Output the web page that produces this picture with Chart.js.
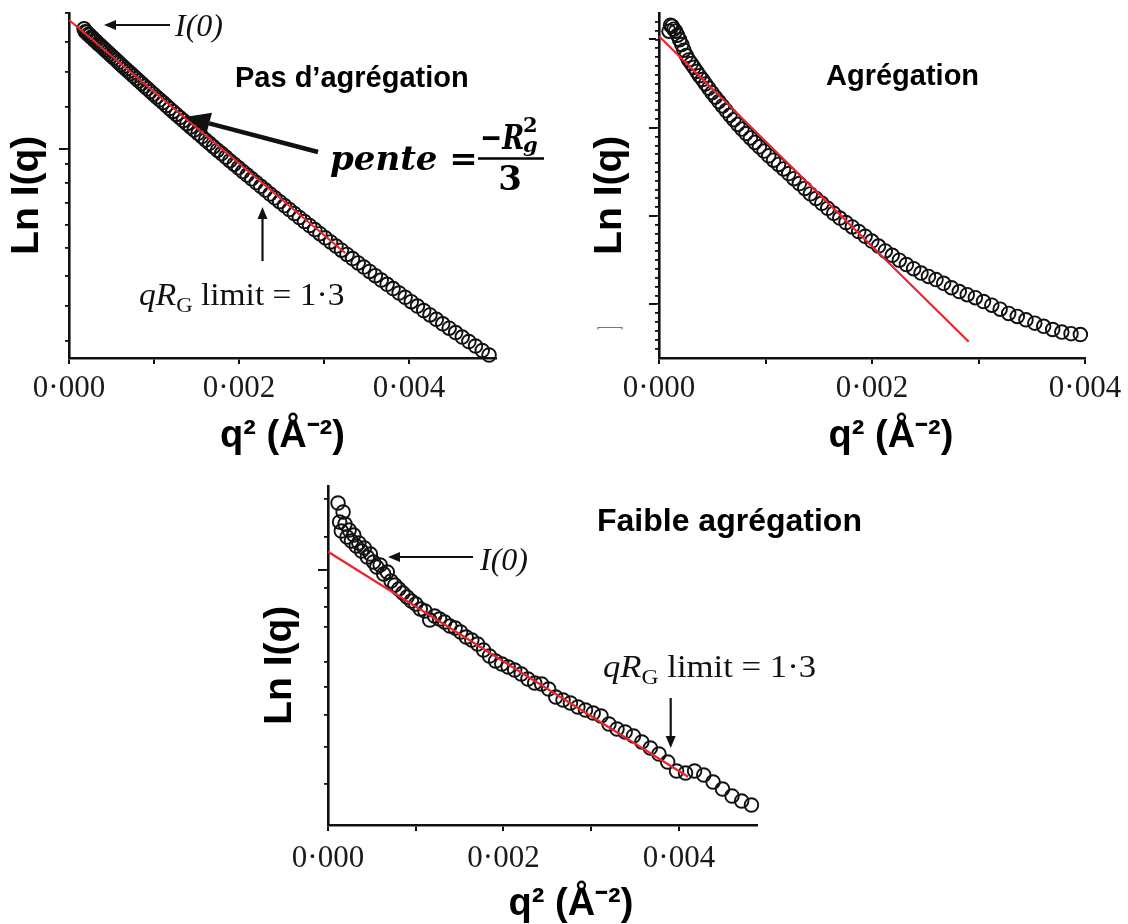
<!DOCTYPE html>
<html>
<head>
<meta charset="utf-8">
<title>Guinier plots</title>
<script src="https://cdn.jsdelivr.net/npm/chart.js@4.4.1/dist/chart.umd.min.js"></script>
<style>
  html, body { margin: 0; padding: 0; background: #fff; }
  #wrap { position: relative; width: 1128px; height: 924px; overflow: hidden; background: #fff; }
  #wrap canvas { position: absolute; left: 0; top: 0; }
</style>
</head>
<body>
<div id="wrap">
  <canvas id="panelA" width="1128" height="924"></canvas>
  <canvas id="panelB" width="1128" height="924"></canvas>
  <canvas id="panelC" width="1128" height="924"></canvas>
</div>
<script>
// x ticks shared by the three plots
const xTickValues = [0, 0.001, 0.002, 0.003, 0.004];
const xTickLabels = ["0·000", "", "0·002", "", "0·004"];

// Pas d'agrégation
const qSqA = [0.0001769, 0.0001924, 0.0002085, 0.0002253, 0.0002427, 0.0002608, 0.0002796, 0.0002989, 0.0003190, 0.0003397,
  0.0003610, 0.0003830, 0.0004056, 0.0004289, 0.0004528, 0.0004774, 0.0005027, 0.0005285, 0.0005551, 0.0005823,
  0.0006101, 0.0006386, 0.0006677, 0.0006975, 0.0007279, 0.0007590, 0.0007907, 0.0008231, 0.0008562, 0.0008898,
  0.0009242, 0.0009591, 0.0009948, 0.0010311, 0.0010680, 0.0011056, 0.0011438, 0.0011827, 0.0012222, 0.0012624,
  0.0013032, 0.0013447, 0.0013868, 0.0014296, 0.0014730, 0.0015171, 0.0015618, 0.0016072, 0.0016532, 0.0016999,
  0.0017472, 0.0017952, 0.0018438, 0.0018931, 0.0019431, 0.0019936, 0.0020449, 0.0020967, 0.0021493, 0.0022024,
  0.0022563, 0.0023107, 0.0023659, 0.0024216, 0.0024781, 0.0025351, 0.0025929, 0.0026512, 0.0027102, 0.0027699,
  0.0028302, 0.0028912, 0.0029528, 0.0030151, 0.0030780, 0.0031416, 0.0032058, 0.0032707, 0.0033362, 0.0034024,
  0.0034692, 0.0035367, 0.0036048, 0.0036736, 0.0037430, 0.0038131, 0.0038838, 0.0039552, 0.0040272, 0.0040998,
  0.0041732, 0.0042471, 0.0043218, 0.0043970, 0.0044729, 0.0045495, 0.0046267, 0.0047046, 0.0047831, 0.0048623,
  0.0049421];
const lnIA = [4.292, 4.262, 4.258, 4.236, 4.229, 4.207, 4.199, 4.178, 4.168, 4.146,
  4.132, 4.115, 4.097, 4.078, 4.059, 4.040, 4.020, 4.000, 3.979, 3.957,
  3.936, 3.913, 3.890, 3.867, 3.844, 3.819, 3.795, 3.770, 3.744, 3.718,
  3.692, 3.665, 3.638, 3.610, 3.582, 3.554, 3.525, 3.495, 3.466, 3.436,
  3.405, 3.374, 3.343, 3.311, 3.279, 3.247, 3.214, 3.180, 3.147, 3.113,
  3.078, 3.044, 3.009, 2.973, 2.938, 2.902, 2.865, 2.829, 2.792, 2.754,
  2.717, 2.679, 2.640, 2.602, 2.563, 2.524, 2.485, 2.445, 2.405, 2.365,
  2.325, 2.284, 2.243, 2.202, 2.161, 2.119, 2.078, 2.036, 1.994, 1.951,
  1.909, 1.866, 1.823, 1.780, 1.737, 1.694, 1.650, 1.607, 1.563, 1.519,
  1.475, 1.431, 1.387, 1.342, 1.298, 1.254, 1.209, 1.165, 1.120, 1.075,
  1.030];
const fitA_x = [0, 0.00325];
const fitA_y = [4.38, 2.05];
const yTicksA = [4.45, 4.16, 3.86, 3.51, 3.09, 2.94, 2.75, 2.55, 2.33, 2.10, 1.82, 1.52, 1.17];
const yMajorA = [3.09];

// Agrégation
const qSqB = [0.0000941, 0.0001082, 0.0001232, 0.0001392, 0.0001563, 0.0001742, 0.0001932, 0.0002132, 0.0002341, 0.0002560,
  0.0002789, 0.0003028, 0.0003276, 0.0003534, 0.0003803, 0.0004080, 0.0004368, 0.0004666, 0.0004973, 0.0005290,
  0.0005617, 0.0005954, 0.0006300, 0.0006656, 0.0007023, 0.0007398, 0.0007784, 0.0008180, 0.0008585, 0.0009000,
  0.0009425, 0.0009860, 0.0010304, 0.0010758, 0.0011223, 0.0011696, 0.0012180, 0.0012674, 0.0013177, 0.0013690,
  0.0014213, 0.0014746, 0.0015288, 0.0015840, 0.0016403, 0.0016974, 0.0017556, 0.0018148, 0.0018749, 0.0019360,
  0.0019981, 0.0020612, 0.0021252, 0.0021902, 0.0022563, 0.0023232, 0.0023912, 0.0024602, 0.0025301, 0.0026010,
  0.0026729, 0.0027458, 0.0028196, 0.0028944, 0.0029703, 0.0030470, 0.0031248, 0.0032036, 0.0032833, 0.0033640,
  0.0034457, 0.0035284, 0.0036120, 0.0036966, 0.0037823, 0.0038688, 0.0039564];
const lnIB = [4.094, 4.162, 4.151, 4.117, 4.094, 4.049, 3.998, 3.943, 3.879, 3.818,
  3.768, 3.727, 3.684, 3.638, 3.590, 3.546, 3.497, 3.448, 3.397, 3.347,
  3.297, 3.247, 3.195, 3.142, 3.091, 3.038, 2.985, 2.935, 2.885, 2.834,
  2.784, 2.736, 2.683, 2.633, 2.585, 2.534, 2.481, 2.423, 2.368, 2.313,
  2.251, 2.199, 2.145, 2.087, 2.031, 1.977, 1.927, 1.877, 1.825, 1.771,
  1.717, 1.660, 1.605, 1.555, 1.500, 1.451, 1.404, 1.354, 1.316, 1.280,
  1.238, 1.188, 1.145, 1.109, 1.075, 1.032, 0.990, 0.945, 0.897, 0.863,
  0.825, 0.787, 0.751, 0.715, 0.686, 0.668, 0.658];
const fitB_x = [0, 0.002908];
const fitB_y = [4.037, 0.577];
const yTicksB = [0.5, 0.6, 0.7, 0.8, 0.9, 1.0, 1.1, 1.2, 1.3, 1.4, 1.5, 1.6, 1.7, 1.8, 1.9,
  2.0, 2.1, 2.2, 2.3, 2.4, 2.5, 2.6, 2.7, 2.8, 2.9, 3.0, 3.1, 3.2, 3.3, 3.4, 3.5, 3.6, 3.7, 3.8, 3.9,
  4.0, 4.1, 4.2];
const yMajorB = [1, 2, 3, 4];

// Faible agrégation
const qSqC = [0.0001145, 0.0001324, 0.0001515, 0.0001720, 0.0001938, 0.0002168, 0.0002412, 0.0002668, 0.0002938, 0.0003220,
  0.0003516, 0.0003824, 0.0004145, 0.0004480, 0.0004827, 0.0005187, 0.0005560, 0.0005946, 0.0006345, 0.0006757,
  0.0007182, 0.0007620, 0.0008071, 0.0008535, 0.0009012, 0.0009502, 0.0010005, 0.0010520, 0.0011049, 0.0011591,
  0.0012145, 0.0012713, 0.0013293, 0.0013887, 0.0014493, 0.0015113, 0.0015745, 0.0016390, 0.0017049, 0.0017720,
  0.0018404, 0.0019101, 0.0019811, 0.0020535, 0.0021271, 0.0022020, 0.0022782, 0.0023557, 0.0024344, 0.0025145,
  0.0025959, 0.0026786, 0.0027626, 0.0028478, 0.0029344, 0.0030223, 0.0031114, 0.0032019, 0.0032936, 0.0033867,
  0.0034810, 0.0035766, 0.0036736, 0.0037718, 0.0038713, 0.0039722, 0.0040743, 0.0041777, 0.0042824, 0.0043884,
  0.0044957, 0.0046043, 0.0047142, 0.0048254];
const lnIC = [4.22, 4.03, 3.94, 4.13, 4.01, 3.88, 3.95, 3.84, 3.90, 3.79,
  3.82, 3.74, 3.77, 3.68, 3.71, 3.63, 3.58, 3.60, 3.51, 3.53,
  3.44, 3.40, 3.36, 3.32, 3.28, 3.24, 3.21, 3.16, 3.14, 3.05,
  3.09, 3.06, 3.03, 2.99, 2.97, 2.93, 2.88, 2.85, 2.81, 2.75,
  2.69, 2.64, 2.61, 2.58, 2.55, 2.51, 2.46, 2.42, 2.41, 2.36,
  2.28, 2.25, 2.22, 2.18, 2.15, 2.12, 2.09, 2.01, 1.96, 1.93,
  1.89, 1.83, 1.77, 1.71, 1.63, 1.54, 1.52, 1.54, 1.50, 1.43,
  1.36, 1.29, 1.24, 1.20];
const fitC_x = [0, 0.004103];
const fitC_y = [3.733, 1.483];
const yTicksC = [4.26, 3.88, 3.55, 3.37, 3.18, 2.98, 2.63, 2.38, 2.10, 1.78, 1.41];
const yMajorC = [3.55];

const SANS = "'Liberation Sans', Arial, sans-serif";
const SERIF = "'Liberation Serif', 'Times New Roman', serif";
const MATH = "'DejaVu Serif', serif";
const INK = "#111";

function drawArrow(ctx, a) {
    const [x1, y1] = a.from;
    const [x2, y2] = a.to;
    const ang = Math.atan2(y2 - y1, x2 - x1);
    const bx = x2 - Math.cos(ang) * a.head;
    const by = y2 - Math.sin(ang) * a.head;
    ctx.strokeStyle = INK;
    ctx.fillStyle = INK;
    ctx.lineWidth = a.width;
    ctx.beginPath();
    ctx.moveTo(x1, y1);
    ctx.lineTo(bx, by);
    ctx.stroke();
    ctx.beginPath();
    ctx.moveTo(x2, y2);
    ctx.lineTo(bx + Math.sin(ang) * a.half, by - Math.cos(ang) * a.half);
    ctx.lineTo(bx - Math.sin(ang) * a.half, by + Math.cos(ang) * a.half);
    ctx.closePath();
    ctx.fill();
}

function drawRuns(ctx, n) {
    ctx.translate(n.x, n.y);
    ctx.scale(n.sx || 1, 1);
    ctx.fillStyle = n.color || INK;
    ctx.textBaseline = "alphabetic";
    let total = 0;
    n.runs.forEach(r => { ctx.font = r.font; total += ctx.measureText(r.text).width; });
    let x = n.align === "center" ? -total / 2 : 0;
    n.runs.forEach(r => {
        ctx.font = r.font;
        ctx.fillText(r.text, x, r.dy || 0);
        x += ctx.measureText(r.text).width;
    });
}

// arrows, labels and formula written on top of each plot
const notesPlugin = {
    id: "notes",
    afterDraw(chart, args, opts) {
        const ctx = chart.ctx;
        (opts.items || []).forEach(item => {
            ctx.save();
            if (item.type === "arrow") {
                drawArrow(ctx, item);
            } else if (item.type === "line") {
                ctx.strokeStyle = item.color || INK;
                ctx.lineWidth = item.width;
                ctx.beginPath();
                item.points.forEach((p, i) => i ? ctx.lineTo(p[0], p[1]) : ctx.moveTo(p[0], p[1]));
                ctx.stroke();
            } else {
                drawRuns(ctx, item);
            }
            ctx.restore();
        });
    }
};

// longer tick marks for the main y graduations
const majorTickPlugin = {
    id: "majorTicks",
    afterDraw(chart, args, opts) {
        const y = chart.scales.y;
        const left = chart.chartArea.left;
        const ctx = chart.ctx;
        ctx.save();
        ctx.strokeStyle = INK;
        ctx.lineWidth = 2;
        (opts.values || []).forEach(v => {
            const py = Math.round(y.getPixelForValue(v));
            ctx.beginPath();
            ctx.moveTo(left - 3, py);
            ctx.lineTo(left - 10, py);
            ctx.stroke();
        });
        ctx.restore();
    }
};

function toPoints(xs, ys) {
    return xs.map((x, i) => ({ x: x, y: ys[i] }));
}

function buildPanel(id, p) {
    return new Chart(document.getElementById(id), {
        type: "scatter",
        data: {
            datasets: [
                {
                    data: toPoints(p.qSq, p.lnI),
                    pointRadius: 6.8,
                    pointBorderWidth: 1.9,
                    borderColor: INK,
                    backgroundColor: "rgba(0,0,0,0)",
                    clip: false,
                    order: 2
                },
                {
                    data: toPoints(p.fitX, p.fitY),
                    showLine: true,
                    borderColor: "#e8262b",
                    borderWidth: 2.2,
                    pointRadius: 0,
                    clip: false,
                    order: 1
                }
            ]
        },
        options: {
            responsive: false,
            animation: false,
            devicePixelRatio: 1,
            layout: {
                autoPadding: false,
                padding: { left: p.padL, top: p.top, right: 1128 - p.right, bottom: 924 - p.bottom - p.xH }
            },
            plugins: {
                legend: { display: false },
                tooltip: { enabled: false },
                notes: { items: p.notes },
                majorTicks: { values: p.yMajor }
            },
            scales: {
                x: {
                    type: "linear",
                    min: 0,
                    max: p.xMax,
                    afterBuildTicks: s => { s.ticks = xTickValues.map(v => ({ value: v })); },
                    afterFit: s => { s.height = p.xH; s.paddingLeft = 0; s.paddingRight = 0; },
                    ticks: {
                        autoSkip: false,
                        maxRotation: 0,
                        padding: p.tickPad,
                        color: "#1a1a1a",
                        font: { family: SERIF, size: 31 },
                        callback: (v, i) => xTickLabels[i]
                    },
                    grid: { display: true, drawOnChartArea: false, drawTicks: true, tickLength: 6, color: INK, lineWidth: 2 },
                    border: { display: true, color: INK, width: 2.6 },
                    title: {
                        display: true,
                        // leading spaces push the centred title to the right, as in the figure
                        text: p.xTitleLead + "q² (Å⁻²)",
                        color: "#000",
                        padding: { top: 0, bottom: 0 },
                        font: { family: SANS, size: 38, weight: "bold", lineHeight: 1 }
                    }
                },
                y: {
                    type: "linear",
                    min: p.yMin,
                    max: p.yMax,
                    afterBuildTicks: s => { s.ticks = p.yTicks.map(v => ({ value: v })); },
                    afterFit: s => { s.width = p.left - p.padL; s.paddingTop = 0; s.paddingBottom = 0; },
                    ticks: { autoSkip: false, callback: () => "" },
                    grid: { display: true, drawOnChartArea: false, drawTicks: true, tickLength: 4, color: INK, lineWidth: 1.8 },
                    border: { display: true, color: INK, width: 2.6 },
                    title: {
                        display: true,
                        text: "Ln I(q)\u2002",
                        color: "#000",
                        padding: { top: 0, bottom: 0 },
                        font: { family: SANS, size: 39, weight: "bold", lineHeight: 1 }
                    }
                }
            }
        },
        plugins: [notesPlugin, majorTickPlugin]
    });
}

const titleFont = "bold 29px " + SANS;

buildPanel("panelA", {
    qSq: qSqA, lnI: lnIA, fitX: fitA_x, fitY: fitA_y, yTicks: yTicksA, yMajor: yMajorA,
    yMin: 1.0, yMax: 4.45, xMax: 0.005024, xTitleLead: "",
    left: 69, top: 13, right: 496, bottom: 358, padL: 8, xH: 97.5, tickPad: 6,
    notes: [
        { type: "arrow", from: [170, 25], to: [104, 25], width: 2.2, head: 12, half: 5 },
        { type: "text", x: 175, y: 35.5, runs: [{ text: "I(0)", font: "italic 32px " + SERIF }] },
        { type: "text", x: 235, y: 87, color: "#000", runs: [{ text: "Pas d’agrégation", font: titleFont }] },
        { type: "arrow", from: [318, 152], to: [185, 117], width: 4.5, head: 25, half: 11 },
        { type: "text", x: 330, y: 170, color: "#000", runs: [
            { text: "pente", font: "bold italic 34px " + MATH },
            { text: " =", font: "bold 34px " + MATH }
        ] },
        { type: "text", x: 480, y: 149, sx: 0.78, color: "#000", runs: [{ text: "−R", font: "bold italic 34px " + MATH }] },
        { type: "text", x: 523, y: 132, color: "#000", runs: [{ text: "2", font: "bold 21px " + MATH }] },
        { type: "text", x: 523, y: 152, color: "#000", runs: [{ text: "g", font: "bold italic 21px " + MATH }] },
        { type: "line", points: [[478, 158.5], [544, 158.5]], width: 2.5, color: "#000" },
        { type: "text", x: 510, y: 190, align: "center", color: "#000", runs: [{ text: "3", font: "bold 34px " + MATH }] },
        { type: "text", x: 139, y: 305, sx: 1.08, runs: [
            { text: "q", font: "italic 31px " + SERIF },
            { text: "R", font: "italic 31px " + SERIF },
            { text: "G", font: "21px " + SERIF, dy: 7 },
            { text: " limit = 1·3", font: "31px " + SERIF }
        ] },
        { type: "arrow", from: [262.5, 261], to: [262.5, 207], width: 2.2, head: 12, half: 5 }
    ]
});

buildPanel("panelB", {
    qSq: qSqB, lnI: lnIB, fitX: fitB_x, fitY: fitB_y, yTicks: yTicksB, yMajor: yMajorB,
    yMin: 0.392, yMax: 4.30, xMax: 0.004, xTitleLead: "\u2003",
    left: 659, top: 13, right: 1085, bottom: 358, padL: 591, xH: 97.5, tickPad: 6,
    notes: [
        { type: "text", x: 826, y: 85, color: "#000", runs: [{ text: "Agrégation", font: titleFont }] },
        { type: "line", points: [[598, 329.5], [598, 327.5], [622, 327.5], [622, 329.5]], width: 1.2, color: "#777" }
    ]
});

buildPanel("panelC", {
    qSq: qSqC, lnI: lnIC, fitX: fitC_x, fitY: fitC_y, yTicks: yTicksC, yMajor: yMajorC,
    yMin: 1.0, yMax: 4.39, xMax: 0.004889, xTitleLead: "\u2003\u2002",
    left: 328, top: 486, right: 757, bottom: 825, padL: 261, xH: 99, tickPad: 9,
    notes: [
        { type: "text", x: 597, y: 531, color: "#000", runs: [{ text: "Faible agrégation", font: "bold 32px " + SANS }] },
        { type: "arrow", from: [473, 557], to: [388, 557], width: 2.2, head: 12, half: 5 },
        { type: "text", x: 480, y: 570, runs: [{ text: "I(0)", font: "italic 32px " + SERIF }] },
        { type: "text", x: 603, y: 677, sx: 1.12, runs: [
            { text: "q", font: "italic 31px " + SERIF },
            { text: "R", font: "italic 31px " + SERIF },
            { text: "G", font: "21px " + SERIF, dy: 7 },
            { text: " limit = 1·3", font: "31px " + SERIF }
        ] },
        { type: "arrow", from: [670.7, 698], to: [670.7, 748], width: 2.2, head: 12, half: 5 }
    ]
});
</script>
</body>
</html>
